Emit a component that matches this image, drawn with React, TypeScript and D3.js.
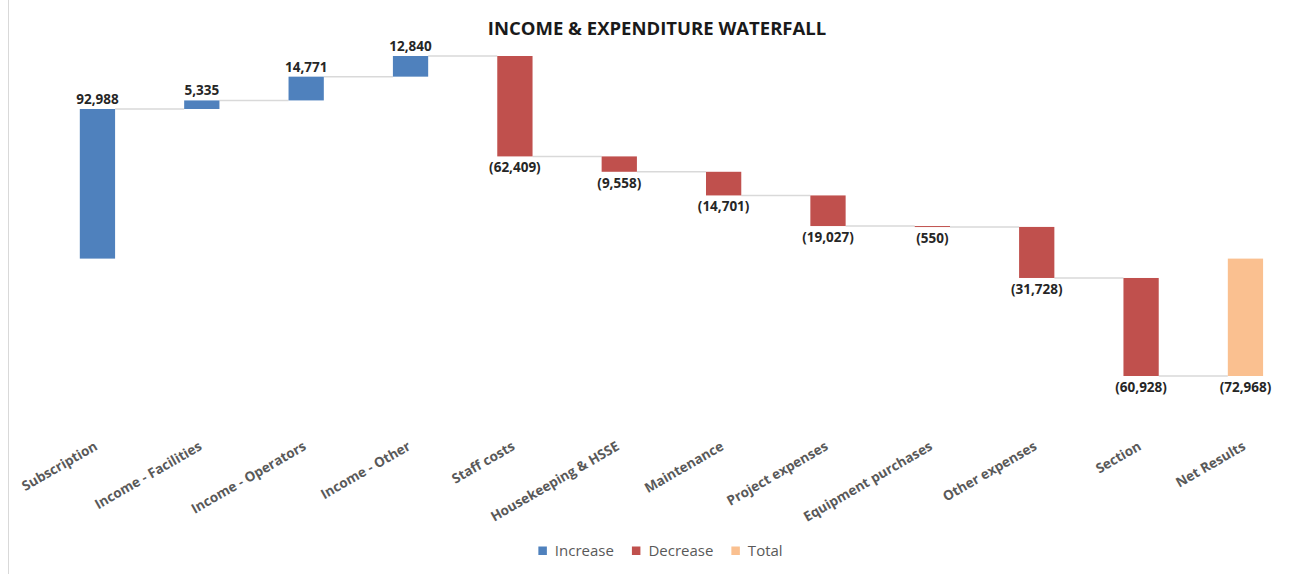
import React, { useEffect, useRef } from "react";
import * as d3 from "d3";

const categories = [
  "Subscription",
  "Income - Facilities",
  "Income - Operators",
  "Income - Other",
  "Staff costs",
  "Housekeeping & HSSE",
  "Maintenance",
  "Project expenses",
  "Equipment purchases",
  "Other expenses",
  "Section",
  "Net Results",
];
const values = [92988, 5335, 14771, 12840, -62409, -9558, -14701, -19027, -550, -31728, -60928, -72968];
const kinds = ["inc", "inc", "inc", "inc", "dec", "dec", "dec", "dec", "dec", "dec", "dec", "total"];
const legendLabels = ["Increase", "Decrease", "Total"];
const legendKinds = ["inc", "dec", "total"];
const title = "INCOME & EXPENDITURE WATERFALL";

const colors: Record<string, string> = { inc: "#4F81BD", dec: "#C0504D", total: "#FAC090" };

const W = 1309;
const H = 574;

export default function App() {
  const ref = useRef<SVGSVGElement | null>(null);

  useEffect(() => {
    const svg = d3.select(ref.current);
    svg.selectAll("*").remove();

    let run = 0;
    const segs = categories.map((c, i) => {
      const v = values[i];
      let y0: number, y1: number;
      if (kinds[i] === "total") {
        y0 = 0;
        y1 = v;
        run = v;
      } else {
        y0 = run;
        y1 = run + v;
        run = y1;
      }
      return { c, v, kind: kinds[i], y0, y1, end: y1 };
    });

    const allY = segs.flatMap((s) => [s.y0, s.y1]);
    const x = d3
      .scaleBand<string>()
      .domain(categories)
      .range([48.5, 1294.4])
      .paddingInner(0.662)
      .paddingOuter(0.3);
    const y = d3
      .scaleLinear()
      .domain([d3.min(allY) as number, d3.max(allY) as number])
      .range([376, 56]);

    const bw = x.bandwidth();

    svg
      .append("line")
      .attr("x1", 8.5)
      .attr("x2", 8.5)
      .attr("y1", 0)
      .attr("y2", H)
      .attr("stroke", "#D9D9D9")
      .attr("stroke-width", 1);

    svg
      .append("text")
      .attr("x", 657)
      .attr("y", 35)
      .attr("text-anchor", "middle")
      .attr("font-family", "'Open Sans', sans-serif")
      .attr("font-weight", 700)
      .attr("font-size", 18.5)
      .attr("fill", "#1a1a1a")
      .text(title);

    const conn = svg.append("g");
    segs.forEach((s, i) => {
      if (i === segs.length - 1) return;
      const next = categories[i + 1];
      conn
        .append("line")
        .attr("x1", (x(s.c) as number) + bw)
        .attr("x2", x(next) as number)
        .attr("y1", y(s.end))
        .attr("y2", y(s.end))
        .attr("stroke", "#D9D9D9")
        .attr("stroke-width", 1.5);
    });

    svg
      .append("g")
      .selectAll("rect")
      .data(segs)
      .join("rect")
      .attr("x", (d) => x(d.c) as number)
      .attr("width", bw)
      .attr("y", (d) => y(Math.max(d.y0, d.y1)))
      .attr("height", (d) => Math.max(1, Math.abs(y(d.y0) - y(d.y1))))
      .attr("fill", (d) => colors[d.kind]);

    const fmt = d3.format(",");
    svg
      .append("g")
      .selectAll("text")
      .data(segs)
      .join("text")
      .attr("x", (d) => (x(d.c) as number) + bw / 2)
      .attr("y", (d) => (d.v >= 0 ? y(Math.max(d.y0, d.y1)) - 5 : y(Math.min(d.y0, d.y1)) + 16))
      .attr("text-anchor", "middle")
      .attr("font-family", "'Open Sans', sans-serif")
      .attr("font-weight", 700)
      .attr("font-size", 13.5)
      .attr("fill", "#262626")
      .text((d) => (d.v >= 0 ? fmt(d.v) : `(${fmt(-d.v)})`));

    svg
      .append("g")
      .selectAll("text")
      .data(categories)
      .join("text")
      .attr("transform", (d) => `translate(${(x(d) as number) + bw / 2 + 1},449) rotate(-30)`)
      .attr("text-anchor", "end")
      .attr("font-family", "'Open Sans', sans-serif")
      .attr("font-weight", 700)
      .attr("font-size", 13.5)
      .attr("fill", "#595959")
      .text((d) => d);

    const lg = svg.append("g");
    let cx = 0;
    legendLabels.forEach((lab, i) => {
      const g = lg.append("g");
      g.append("rect")
        .attr("x", 0)
        .attr("y", -9.5)
        .attr("width", 8.5)
        .attr("height", 8.5)
        .attr("fill", colors[legendKinds[i]]);
      const t = g
        .append("text")
        .attr("x", 16.5)
        .attr("y", 0)
        .attr("font-family", "'Open Sans', sans-serif")
        .attr("font-size", 15)
        .attr("fill", "#595959")
        .text(lab);
      const tw = (t.node() as SVGTextElement).getComputedTextLength();
      const w = 16.5 + tw;
      g.attr("transform", `translate(${cx},0)`);
      cx += w + 18;
    });
    const totalW = cx - 18;
    lg.attr("transform", `translate(${660.5 - totalW / 2},556)`);
  }, []);

  return (
    <svg
      ref={ref}
      width={W}
      height={H}
      style={{ position: "absolute", left: 0, top: 0, background: "#fff" }}
    />
  );
}
